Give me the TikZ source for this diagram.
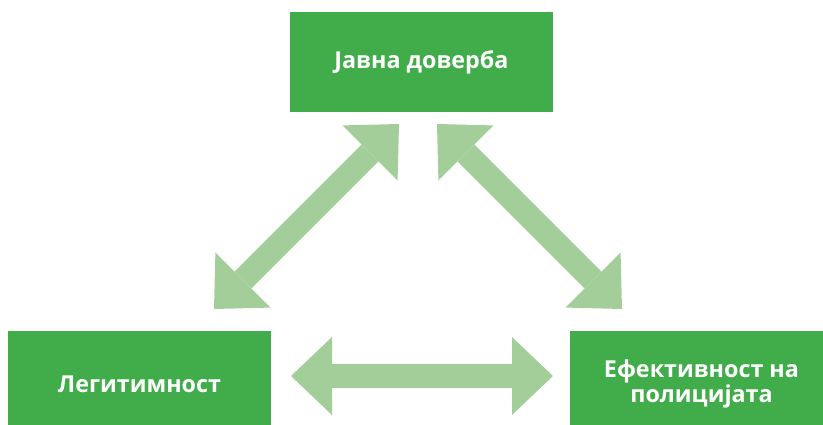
\documentclass[tikz,border=0pt]{standalone}
\usepackage{fontspec}
\setmainfont{Open Sans}
\usepackage{xcolor}
\usetikzlibrary{arrows.meta}
\definecolor{boxgreen}{HTML}{41AD4A}
\definecolor{arrowgreen}{HTML}{A4CE99}
\tikzset{font={\fontsize{23.3pt}{22pt}\selectfont\bfseries}}

\begin{document}
\begin{tikzpicture}[x=1pt,y=-1pt,
                    box/.style={rectangle,fill=boxgreen,text=white,inner sep=0pt,
                                minimum width=263pt,minimum height=100pt,align=center},
                    fat tip/.tip={Triangle[length=41pt 0,width=78pt 0,line width=0pt]},
                    fat arrow/.style={draw=arrowgreen,line width=24pt,fat tip-fat tip}]
  \useasboundingbox (0,0) rectangle (823,425);

  \node[box] (trust) at (421.5,62) {Јавна доверба};
  \node[box,minimum height=106pt] (legit) at (139.5,384) {Легитимност};
  \node[box,minimum height=106pt] (police) at (701.5,384) {Ефективност на\\полицијата};

  % ends of the double arrows
  \coordinate (lb) at (214,309);
  \coordinate (lt) at (399,124);
  \coordinate (rt) at (437,124);
  \coordinate (rb) at (622,309);
  \coordinate (hl) at (291,376);
  \coordinate (hr) at (553,376);

  \draw[fat arrow] (lb) -- (lt);
  \draw[fat arrow] (rt) -- (rb);
  \draw[fat arrow] (hl) -- (hr);
\end{tikzpicture}
\end{document}
